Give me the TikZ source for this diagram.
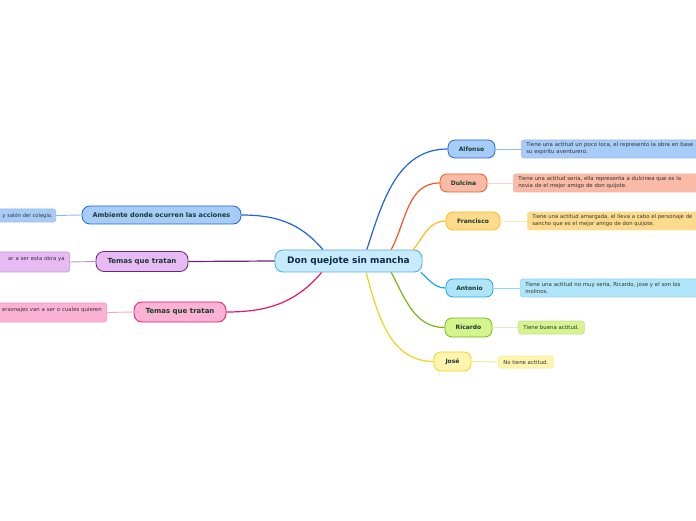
\documentclass[tikz,border=0pt]{standalone}
\usepackage{fontspec}
\setmainfont{DejaVu Sans}
\definecolor{txt}{HTML}{173A30}
\definecolor{ctxt}{HTML}{10294A}
\definecolor{ntxt}{HTML}{333333}
\definecolor{cfill}{HTML}{C8EBFB}\definecolor{cdraw}{HTML}{5AAEE0}
\definecolor{bluef}{HTML}{A8CCF8}\definecolor{blued}{HTML}{1F66D4}\definecolor{bluel}{HTML}{8DB8F0}
\definecolor{redf}{HTML}{F9BAA6}\definecolor{redd}{HTML}{F0582A}\definecolor{redl}{HTML}{FBD2C4}
\definecolor{yelf}{HTML}{FDDB8C}\definecolor{yeld}{HTML}{FBBC1C}\definecolor{yell}{HTML}{FDE7B4}
\definecolor{cyaf}{HTML}{B0E4F9}\definecolor{cyad}{HTML}{1CA5E6}\definecolor{cyal}{HTML}{8ED6F5}
\definecolor{grnf}{HTML}{D4F58E}\definecolor{grnd}{HTML}{7CB516}\definecolor{grnl}{HTML}{DCEFC0}
\definecolor{lemf}{HTML}{FFF5B0}\definecolor{lemd}{HTML}{EED418}\definecolor{leml}{HTML}{F5E88A}
\definecolor{purf}{HTML}{E7BAF4}\definecolor{purd}{HTML}{6C2478}\definecolor{purl}{HTML}{C08ED0}
\definecolor{pnkf}{HTML}{FBB2D4}\definecolor{pnkd}{HTML}{E8166E}\definecolor{pnkl}{HTML}{F7A6CA}
\tikzset{
  central/.style={draw=cdraw,fill=cfill,line width=0.9pt,rounded corners=8pt,minimum width=147pt,minimum height=22pt,inner sep=0pt,font=\fontsize{9}{10}\selectfont\bfseries,text=ctxt},
  child/.style={draw=#1d,fill=#1f,line width=0.8pt,rounded corners=7pt,minimum height=18pt,inner sep=0pt,font=\fontsize{6}{7}\selectfont\bfseries,text=txt},
  lchild/.style={draw=#1d,fill=#1f,line width=0.8pt,rounded corners=8pt,minimum height=19pt,inner sep=0pt,font=\fontsize{7}{8}\selectfont\bfseries,text=txt},
  note/.style={draw=#1d!45,fill=#1f,line width=0.6pt,rounded corners=2.5pt,inner xsep=5pt,inner ysep=0pt,align=left,font=\fontsize{5.4}{7}\selectfont,text=ntxt},
  main/.style={draw=#1,line width=1.2pt},
  sub/.style={draw=#1,line width=0.9pt}
}
\begin{document}
\begin{tikzpicture}[x=1pt,y=1pt]
\useasboundingbox (0,0) rectangle (696,520);
\clip (0,0) rectangle (696,520);
\fill[white] (0,0) rectangle (696,520);

% central
\node[central] (c) at (348.5,259) {Don quejote sin mancha};

% right children
\node[child=blue,minimum width=47pt] (alf) at (471.5,371) {Alfonso};
\node[child=red,minimum width=47pt] (dul) at (463.5,337) {Dulcina};
\node[child=yel,minimum width=54pt] (fra) at (473,299) {Francisco};
\node[child=cya,minimum width=47pt] (ant) at (469.5,232) {Antonio};
\node[child=grn,minimum width=47pt,minimum height=19pt] (ric) at (468.5,192.5) {Ricardo};
\node[child=lem,minimum width=37pt,minimum height=19pt] (jos) at (452.5,158.5) {José};

% left children
\node[lchild=blue,minimum width=159pt,minimum height=18pt,font=\fontsize{6.5}{8}\selectfont\bfseries] (amb) at (161.5,305) {Ambiente donde ocurren las acciones};
\node[lchild=pur,minimum width=92pt,minimum height=20pt] (tm1) at (142,258.5) {Temas que tratan};
\node[lchild=pnk,minimum width=92pt,minimum height=20pt] (tm2) at (180,208) {Temas que tratan};

% right notes
\node[note=blue,anchor=west,minimum height=18pt,text width=190pt] (nalf) at (521,371) {Tiene una actitud un poco loca, el represento la obra en base\\su espiritu aventurero.};
\node[note=red,anchor=west,minimum height=18pt,text width=190pt] (ndul) at (513,337) {Tiene una actitud seria, ella representa a dulcinea que es la\\novia de el mejor amigo de don quijote.};
\node[note=yel,anchor=west,minimum height=18pt,text width=190pt,font=\fontsize{5.3}{7}\selectfont] (nfra) at (527,299) {Tiene una actitud amargada, el lleva a cabo el personaje de\\sancho que es el mejor amigo de don quijote.};
\node[note=cya,anchor=west,minimum height=18pt,text width=190pt] (nant) at (520,232) {Tiene una actitud no muy seria, Ricardo, jose y el son los\\molinos.};
\node[note=grn,anchor=west,minimum height=13pt,minimum width=66pt,inner xsep=4pt] (nric) at (518,192.5) {Tiene buena actitud.};
\node[note=lem,anchor=west,minimum height=12pt,minimum width=55pt,inner xsep=4pt] (njos) at (498,158) {No tiene actitud.};

% left notes (cut by the left edge)
\node[note=blue,anchor=east,minimum height=13pt,text width=90pt,align=right,inner xsep=3pt,font=\fontsize{5.2}{7}\selectfont] (namb) at (56,304.5) {y salón del colegio.};
\node[note=pur,anchor=east,minimum height=20pt,text width=120pt,align=right] (ntm1) at (70,258) {ar a ser esta obra ya\hspace*{9pt}\\\mbox{}};
\node[note=pnk,anchor=east,minimum height=19pt,text width=150pt,align=right] (ntm2) at (107,207.5) {ersonajes van a ser o cuales quieren\hspace*{3pt}\\\mbox{}};

% main connectors
\draw[main=blued] (c.32.2) to[out=72,in=180] (alf.west);
\draw[main=redd] (c.15.9) to[out=62,in=180] (dul.west);
\draw[main=yeld] (c.10.1) to[out=52,in=180] (fra.west);
\draw[main=cyad] (c.-9.8) to[out=-40,in=180] (ant.west);
\draw[main=grnd] (c.-15.6) to[out=-62,in=180] (ric.west);
\draw[main=lemd] (c.-33.7) to[out=-75,in=180] (jos.west);
\draw[main=blued] (c.156.7) to[out=130,in=0] (amb.east);
\draw[main=purd] (c.west) -- (tm1.east);
\draw[main=pnkd] (c.203.3) to[out=230,in=0] (tm2.east);

% sub connectors
\draw[sub=bluel] (alf.east) -- (nalf.west);
\draw[sub=redl] (dul.east) -- (ndul.west);
\draw[sub=yell] (fra.east) -- (nfra.west);
\draw[sub=cyal] (ant.east) -- (nant.west);
\draw[sub=grnl] (ric.east) -- (nric.west);
\draw[sub=leml] (jos.east) -- (njos.west);
\draw[sub=bluel] (amb.west) -- (namb.east);
\draw[sub=purl] (tm1.west) -- (ntm1.east);
\draw[sub=pnkl] (tm2.west) -- (ntm2.east);
\end{tikzpicture}
\end{document}
